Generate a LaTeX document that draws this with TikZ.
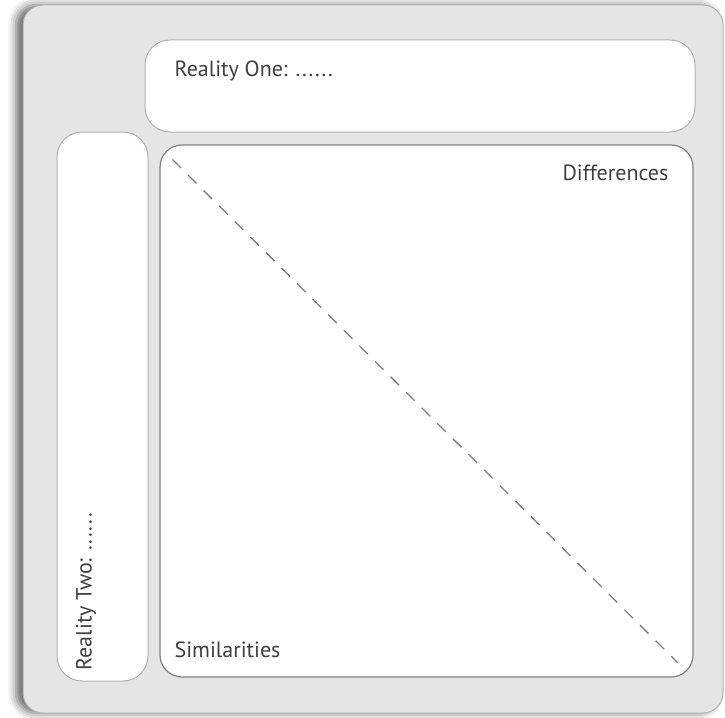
\documentclass[tikz,border=0pt]{standalone}
\usepackage{fontspec}
\setmainfont{PT Sans}
\usetikzlibrary{shadows.blur}
\newcommand{\dotrow}{.\kern1.8pt.\kern1.8pt.\kern1.8pt.\kern1.8pt.\kern1.8pt.}

\begin{document}
\begin{tikzpicture}[x=1pt, y=-1pt,
    panel/.style = {draw=black!30, fill=white, rounded corners=25pt, line width=1pt, inner sep=0pt},
    caption/.style = {text=black!75, font=\fontsize{22}{25}\selectfont, inner sep=0pt}]
\useasboundingbox (0,0) rectangle (725,717);
\node[draw=black!30, fill=black!10, rounded corners=20pt, line width=1pt,
      minimum width=700pt, minimum height=708pt,
      blur shadow={shadow xshift=-7pt, shadow yshift=0pt, shadow blur radius=8pt, shadow opacity=60}]
      (outer) at (373,359) {};
\node[panel, minimum width=550pt, minimum height=92pt] (one) at (420,86) {};
\node[panel, minimum width=91pt, minimum height=549pt] (two) at (102.5,406.5) {};
\node[panel, draw=black!50, line width=1.2pt, rounded corners=22pt,
      minimum width=533pt, minimum height=532pt] (grid) at (426.5,411) {};
\node[caption, anchor=base west] (onetext) at ([shift={(30,37)}]one.north west) {Reality One: \dotrow};
\node[caption, anchor=base west, rotate=90] (twotext) at ([shift={(35,-11)}]two.south west) {Reality Two: \dotrow};
\node[caption, anchor=base east] (diff) at ([shift={(-25,36)}]grid.north east) {Differences};
\node[caption, anchor=base west] (sim) at ([shift={(15,-20)}]grid.south west) {Similarities};
\coordinate (d1) at ([shift={(13,15)}]grid.north west);
\coordinate (d2) at ([shift={(-16,-15)}]grid.south east);
\draw[black!50, line width=1.3pt, dash pattern=on 12pt off 10pt] (d1) -- (d2);
\end{tikzpicture}
\end{document}
